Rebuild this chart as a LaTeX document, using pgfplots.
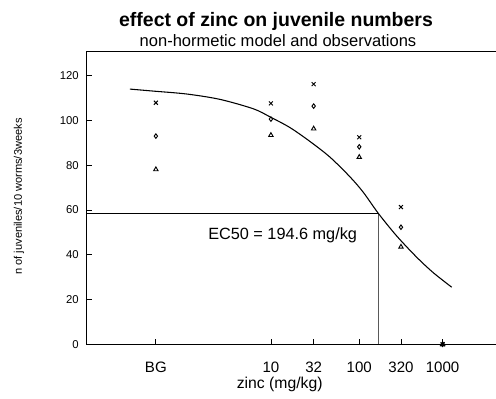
\documentclass[border=0pt]{standalone}
\usepackage{pgfplots}
\pgfplotsset{compat=1.18}
\usepackage{fontspec}
\setmainfont{Liberation Sans}
\begin{document}
\begin{tikzpicture}[x=0.75pt,y=0.75pt]
\useasboundingbox (-86,-54.7) rectangle (410,344.3);
\begin{axis}[
  at={(0,0)}, anchor=south west,
  scale only axis, width=307.5pt, height=219.45pt,
  xmin=-1.164, xmax=3.612, ymin=0, ymax=130.7,
  axis lines*=left, axis line style={-, line width=0.75pt},
  tick align=inside, major tick length=4.3pt,
  tick style={line width=0.6pt, black},
  xtick={-0.35,0.99,1.488,2.019,2.505,2.99},
  xticklabels={BG,10,32,100,320,1000},
  ytick={0,20,40,60,80,100,120},
  /pgf/number format/assume math mode=true,
  xticklabel style={font=\fontsize{11.3}{13}\selectfont, anchor=base, inner sep=0pt, yshift=-20.9pt},
  yticklabel style={font=\fontsize{8.5}{10}\selectfont, anchor=east, inner sep=0pt, xshift=-5.25pt},
]
\draw[line width=0.75pt] (rel axis cs:0,1) -- (rel axis cs:1,1);
% EC50 lines
\addplot[black, line width=1pt] coordinates {(-1.164,58.5) (2.241,58.5)};
\addplot[black!65, line width=0.6pt] coordinates {(2.241,58.5) (2.241,0)};
% model curve
\addplot[black, line width=0.8pt, smooth, tension=0.5] coordinates {
(-0.652,114) (-0.380,113.1) (0.009,111.8) (0.397,109.4) (0.785,105.2)
(0.979,101.6) (1.212,96.8) (1.445,90.6) (1.678,83.6) (1.911,74.8)
(2.066,67.9) (2.241,58.5) (2.455,48.4) (2.688,38.9) (2.881,32.0) (3.096,25.5)};
% observations
\addplot[only marks, mark=x, mark size=2.1pt, black, mark options={line width=0.7pt}] coordinates {
(-0.35,107.9) (0.99,107.6) (1.488,116.2) (2.019,92.5) (2.505,61.3) (2.99,0)};
\addplot[only marks, mark=diamond, mark size=1.7pt, black, mark options={line width=0.7pt}] coordinates {
(-0.35,93.0) (0.99,100.6) (1.488,106.4) (2.019,88.2) (2.505,52.3) (2.99,0)};
\addplot[only marks, mark=triangle, mark size=1.9pt, black, mark options={line width=0.7pt}] coordinates {
(-0.35,78.1) (0.99,93.4) (1.488,96.3) (2.019,83.6) (2.505,43.5) (2.99,0)};
\node[anchor=base west, inner sep=0pt, font=\fontsize{12.2}{14}\selectfont] at (axis cs:0.257,46.6) {EC50 = 194.6 mg/kg};
\end{axis}
\node[anchor=base, inner sep=0pt, font=\bfseries\fontsize{14.6}{16}\selectfont] at (190,317.6) {effect of zinc on juvenile numbers};
\node[anchor=base, inner sep=0pt, font=\fontsize{12.4}{14}\selectfont] at (192,297.3) {non-hormetic model and observations};
\node[anchor=base, inner sep=0pt, font=\fontsize{11.8}{14}\selectfont] at (193.7,-44) {zinc (mg/kg)};
\node[rotate=90, inner sep=0pt, font=\fontsize{8.3}{10}\selectfont] at (-67,147.8) {n of juveniles/10 worms/3weeks};
\end{tikzpicture}
\end{document}
